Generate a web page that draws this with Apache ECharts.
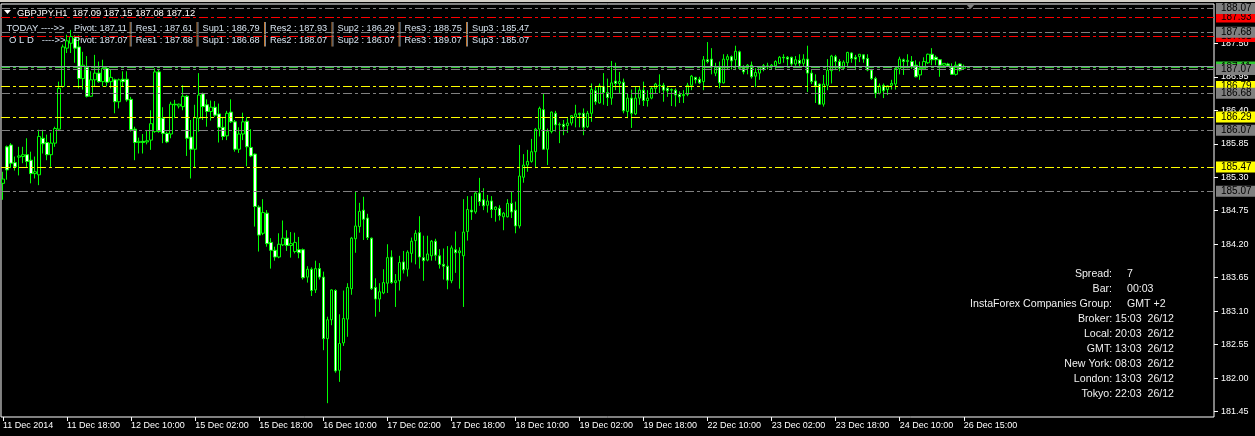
<!DOCTYPE html>
<html><head><meta charset="utf-8">
<script src="https://cdn.jsdelivr.net/npm/echarts@6/dist/echarts.min.js"></script>
<style>html,body{margin:0;padding:0;background:#000;overflow:hidden}#c{width:1255px;height:436px}</style>
</head><body><div id="c"></div>
<script>
// ---- data ----
const opens = [
185.20,185.80,185.83,185.54,185.63,185.64,185.67,185.58,185.36,185.34,
185.94,185.87,185.67,185.86,186.09,186.79,187.42,187.50,187.58,187.44,
186.92,187.12,186.63,186.90,187.01,186.87,187.09,186.87,186.90,186.54,
186.91,186.91,186.58,186.09,185.87,185.89,185.88,185.91,186.05,187.03,
186.27,186.02,186.01,186.50,186.47,186.46,186.63,185.96,185.76,186.27,
186.67,186.49,186.38,186.45,186.34,186.12,185.98,186.37,186.21,185.76,
186.01,186.22,185.79,185.68,184.81,184.38,184.71,184.23,184.10,183.99,
184.19,184.30,184.18,184.08,184.11,184.11,183.66,183.79,183.45,183.80,
183.66,182.65,182.96,183.44,182.13,182.58,182.97,183.47,184.29,184.49,
184.76,184.63,184.30,183.49,183.30,183.40,183.56,183.99,183.57,183.60,
183.91,183.79,184.05,184.26,184.39,183.98,183.94,184.01,184.25,184.01,
183.87,183.84,183.60,184.11,184.06,184.01,184.41,184.76,184.73,185.04,
184.93,184.84,184.91,184.77,184.79,184.65,184.65,184.87,184.76,184.50,
185.30,185.50,185.56,185.72,186.09,186.41,185.76,186.05,186.35,186.16,
186.17,186.15,186.19,186.29,186.33,186.35,186.13,186.35,186.72,186.52,
186.79,186.69,186.60,186.88,186.84,186.86,186.38,186.60,186.34,186.60,
186.73,186.56,186.60,186.76,186.81,186.81,186.76,186.73,186.73,186.66,
186.64,186.66,186.81,186.94,186.91,186.87,187.23,187.24,187.01,187.11,
186.85,187.23,187.28,187.23,187.36,187.09,187.09,187.14,186.96,187.01,
187.13,187.11,187.11,187.13,187.17,187.27,187.27,187.27,187.16,187.22,
187.17,187.24,187.01,186.88,186.83,186.50,186.81,187.05,187.28,187.20,
187.09,187.18,187.34,187.27,187.28,187.31,187.25,187.06,186.92,186.68,
186.81,186.74,186.81,186.83,187.08,187.23,187.20,187.20,187.14,186.98,
187.08,187.18,187.32,187.27,187.23,187.14,187.16,187.11,186.99,187.16,187.09];
const highs = [
185.39,185.82,185.86,185.64,185.80,185.80,185.94,185.72,185.64,186.08,
186.08,186.00,186.03,186.13,186.87,187.48,187.64,187.72,187.63,187.63,
187.36,187.29,187.04,187.31,187.20,187.23,187.12,187.07,186.92,186.92,
187.04,187.04,186.62,186.13,185.95,186.01,186.06,186.40,187.09,187.07,
186.45,186.05,186.54,186.57,186.51,186.81,186.65,186.24,186.49,187.01,
186.69,186.58,186.56,186.55,186.51,186.29,186.39,186.58,186.24,186.12,
186.36,186.29,186.09,185.69,184.84,184.94,184.76,184.30,184.16,184.38,
184.59,184.43,184.40,184.39,184.32,184.13,183.84,183.82,183.93,183.89,
183.75,183.01,183.46,183.46,183.05,183.44,183.56,184.32,185.06,184.88,
184.98,184.70,184.31,183.64,183.56,183.79,184.20,184.10,183.71,184.01,
184.09,184.10,184.31,184.43,184.66,184.34,184.34,184.27,184.29,184.12,
184.13,184.17,184.18,184.41,184.15,184.94,184.99,184.99,185.07,185.29,
185.12,185.01,184.99,184.82,184.84,184.73,184.94,185.07,184.90,185.83,
185.68,185.75,185.93,186.11,186.46,186.68,186.10,186.38,186.39,186.20,
186.24,186.27,186.32,186.49,186.36,186.43,186.39,186.84,186.79,186.84,
187.01,186.92,187.21,187.18,187.03,186.92,186.68,186.74,186.79,186.80,
186.87,186.73,186.79,186.85,186.99,186.85,186.80,186.76,186.76,186.71,
186.73,186.85,186.98,186.95,186.95,187.29,187.52,187.42,187.18,187.20,
187.32,187.32,187.30,187.46,187.38,187.14,187.16,187.20,187.09,187.11,
187.16,187.18,187.16,187.22,187.29,187.32,187.29,187.28,187.29,187.32,
187.32,187.46,187.06,186.99,186.84,186.98,187.24,187.31,187.31,187.24,
187.22,187.36,187.35,187.31,187.32,187.32,187.32,187.08,186.95,186.84,
186.84,186.81,186.90,187.11,187.28,187.25,187.32,187.29,187.22,187.20,
187.27,187.33,187.42,187.30,187.24,187.17,187.18,187.17,187.20,187.17,187.15];
const lows = [
184.93,185.26,185.45,185.41,185.33,185.53,185.47,185.20,185.28,185.17,
185.69,185.58,185.47,185.80,186.08,186.77,187.34,187.34,187.18,186.76,
186.74,186.61,186.62,186.79,186.85,186.79,186.79,186.76,186.35,186.43,
186.79,186.54,186.05,185.58,185.69,185.69,185.84,185.75,186.03,186.03,
185.86,185.86,185.94,186.27,186.43,186.40,185.65,185.28,185.45,186.05,
186.24,186.13,186.23,186.29,185.87,185.91,185.91,186.19,185.72,185.70,
185.91,185.48,185.63,184.49,184.08,184.35,184.16,183.80,183.93,183.97,
184.17,184.09,183.98,184.05,183.97,183.62,183.57,183.35,183.40,183.62,
182.46,181.59,182.87,182.09,181.94,182.53,182.68,183.37,184.06,184.39,
184.27,184.27,183.45,183.01,183.09,183.38,183.40,183.55,183.17,183.44,
183.72,183.67,183.90,183.87,183.80,183.60,183.92,183.93,183.93,183.80,
183.62,183.46,183.56,183.73,183.47,183.17,184.26,184.60,184.70,184.83,
184.76,184.72,184.63,184.57,184.59,184.43,184.64,184.63,184.38,184.46,
185.21,185.39,185.54,185.45,185.97,185.75,185.50,186.02,186.05,185.86,
185.99,186.03,186.15,186.12,186.12,185.99,186.11,186.21,186.49,186.51,
186.49,186.47,186.49,186.73,186.68,186.35,186.27,186.11,186.32,186.49,
186.47,186.46,186.58,186.68,186.68,186.54,186.62,186.47,186.46,186.52,
186.52,186.63,186.73,186.84,186.83,186.73,187.17,186.99,186.96,186.76,
186.84,187.07,187.07,187.06,187.08,186.99,186.99,186.92,186.78,186.90,
187.04,187.07,187.07,187.06,187.16,187.18,187.13,187.13,187.13,187.11,
187.11,186.70,186.83,186.52,186.49,186.46,186.73,186.84,187.06,187.04,
187.06,187.11,187.18,187.06,187.19,187.18,187.04,186.90,186.60,186.66,
186.60,186.65,186.74,186.74,186.99,186.98,187.09,187.08,186.94,186.90,
187.06,187.16,187.14,187.14,186.95,187.11,187.11,186.98,186.97,187.04,187.08];
const closes = [
185.27,185.42,185.53,185.47,185.65,185.67,185.56,185.36,185.39,185.97,
185.85,185.67,185.86,186.10,186.76,187.44,187.54,187.61,187.42,186.92,
187.14,186.63,186.90,187.01,186.87,187.09,186.86,186.94,186.54,186.90,
186.87,186.57,186.08,185.87,185.89,185.87,185.90,186.18,187.03,186.05,
186.02,185.88,186.50,186.49,186.50,186.63,185.94,185.76,186.28,186.65,
186.46,186.38,186.45,186.32,186.12,185.97,186.35,186.21,185.76,186.01,
186.21,185.80,185.65,184.82,184.35,184.72,184.21,184.10,183.99,184.20,
184.30,184.18,184.21,184.23,184.06,183.65,183.79,183.44,183.80,183.66,
182.65,182.96,183.45,182.12,182.57,182.98,183.49,184.30,184.50,184.74,
184.61,184.31,183.47,183.30,183.42,183.57,183.98,183.57,183.60,183.90,
183.78,184.07,184.25,184.38,183.99,183.93,184.04,184.25,184.02,183.87,
183.84,183.61,184.14,184.06,184.09,184.40,184.77,184.73,185.04,184.90,
184.83,184.91,184.77,184.81,184.67,184.71,184.87,184.73,184.50,185.32,
185.50,185.56,185.72,186.09,186.43,185.76,186.05,186.37,186.16,186.17,
186.13,186.19,186.31,186.34,186.35,186.12,186.35,186.74,186.54,186.80,
186.69,186.61,186.85,186.84,186.87,186.39,186.60,186.35,186.60,186.73,
186.56,186.60,186.76,186.83,186.80,186.73,186.72,186.74,186.65,186.62,
186.66,186.81,186.96,186.90,186.85,187.23,187.20,187.11,187.11,186.85,
187.24,187.28,187.21,187.37,187.09,187.03,187.14,186.95,187.02,187.11,
187.07,187.13,187.14,187.20,187.27,187.26,187.24,187.16,187.23,187.17,
187.24,187.01,186.87,186.80,186.50,186.83,187.06,187.29,187.20,187.09,
187.19,187.35,187.25,187.24,187.32,187.24,187.06,186.92,186.68,186.80,
186.72,186.80,186.84,187.09,187.24,187.20,187.22,187.11,186.95,187.09,
187.20,187.32,187.23,187.23,187.14,187.17,187.13,186.99,187.14,187.06,187.12];

// trading sessions: [day, first hour, last hour]
const sessions = [['11 Dec',2,23],['12 Dec',0,23],['15 Dec',0,23],['16 Dec',0,23],['17 Dec',0,23],
  ['18 Dec',0,23],['19 Dec',0,23],['22 Dec',0,23],['23 Dec',0,23],['24 Dec',0,19],['26 Dec',9,15]];
const tickLabels = ['11 Dec 2014','11 Dec 18:00','12 Dec 10:00','15 Dec 02:00','15 Dec 18:00','16 Dec 10:00',
  '17 Dec 02:00','17 Dec 18:00','18 Dec 10:00','19 Dec 02:00','19 Dec 18:00','22 Dec 10:00',
  '23 Dec 02:00','23 Dec 18:00','24 Dec 10:00','26 Dec 15:00'];
const tickEvery = 16;
const yTicks = [181.45,182.00,182.55,183.10,183.65,184.20,184.75,185.30,185.85,186.40,186.95,187.50];
const levelNames = ['Pivot','Res1','Sup1','Res2','Sup2','Res3','Sup3'];
const todayLevels = [187.11,187.61,186.79,187.93,186.29,188.75,185.47];
const oldLevels   = [187.07,187.68,186.68,188.07,186.07,189.07,185.07];
const symbolTitle = 'GBPJPY.H1';
const lastBar = [187.09,187.15,187.08,187.12];
const bidPrice = 187.12;
const infoTop = [['Spread:','7'],['Bar:','00:03'],['InstaForex Companies Group:','GMT +2']];
const clocks = [['Broker','15:03','26/12'],['Local','20:03','26/12'],['GMT','13:03','26/12'],
  ['New York','08:03','26/12'],['London','13:03','26/12'],['Tokyo','22:03','26/12']];

// ---- build ----
const SLOTS = 303;
const cats = [];
sessions.forEach(s => { for (let h = s[1]; h <= s[2]; h++) cats.push(s[0] + ' ' + String(h).padStart(2,'0') + ':00'); });
while (cats.length < SLOTS) cats.push('');
const candles = opens.map((o,i) => [o, closes[i], lows[i], highs[i]]);
const nBars = opens.length;
const YMIN = 181.363, YMAX = 188.145;
const FONT = '"Liberation Sans", Arial, sans-serif';

const levColorToday = ['#33cc33','#ff0000','#ffff00','#ff0000','#ffff00','#ff0000','#ffff00'];
const GRAY = '#808080';
const dashDot = [9,3,3,3];
function lvl(v, color, showLabel, solid) {
  return { yAxis: v,
    lineStyle: { color: color, width: 1, type: solid ? 'solid' : dashDot },
    label: { show: showLabel, position: 'end', distance: 2, formatter: () => v.toFixed(2),
      backgroundColor: color, color: '#000', fontSize: 10, fontFamily: FONT,
      padding: [1,5,0,5], lineHeight: 10 } };
}
const mlData = [];
todayLevels.forEach((v,k) => { if (v > YMIN && v < YMAX) mlData.push(lvl(v, levColorToday[k], true, false)); });
mlData.push(lvl(bidPrice, '#8c98a4', false, true));
oldLevels.forEach(v => { if (v > YMIN && v < YMAX) mlData.push(lvl(v, GRAY, true, false)); });

// header graphics
const segX = [74, 135.7, 202.5, 270, 337.5, 404.6, 472];
const g = [];
g.push({type:'rect', shape:{x:0, y:0, width:1255, height:2}, style:{fill:'#d4d0c8'}, z:120});
g.push({type:'polygon', shape:{points:[[4,10],[11,10],[7.5,14]]}, style:{fill:'#fff'}, z:100});
g.push({type:'text', x:17, y:13, style:{text: symbolTitle + '  ' + lastBar.map(v=>v.toFixed(2)).join(' '),
  fill:'#fff', font:'9.4px ' + FONT, textVerticalAlign:'middle'}, z:100});
function levelRow(prefix, prefixX, vals, y) {
  g.push({type:'text', x:prefixX, y:y, style:{text:prefix, fill:'#d8e4f0', font:'9.5px ' + FONT, textVerticalAlign:'middle'}, z:100});
  vals.forEach((v,k) => {
    const txt = k === 0 ? levelNames[k] + ': ' + v.toFixed(2) : levelNames[k] + ' : ' + v.toFixed(2);
    g.push({type:'text', x:segX[k], y:y, style:{text:txt, fill:'#d8e4f0', font:'9.2px ' + FONT, textVerticalAlign:'middle'}, z:100});
    if (k > 0) {
      g.push({type:'rect', shape:{x:segX[k]-6, y:y-6, width:1, height:12}, style:{fill:'#c87a30'}, z:100});
      g.push({type:'rect', shape:{x:segX[k]-5, y:y-6, width:1, height:12}, style:{fill:'#7a8a9a'}, z:100});
    }
  });
}
levelRow('TODAY ---->>', 6.4, todayLevels, 28);
levelRow('O L D   ---->>', 9, oldLevels, 40.5);
g.push({type:'polygon', shape:{points:[[966,4],[975,4],[970.5,9]]}, style:{fill:'#808080'}, z:100});

// info panel
const infoFont = '10.6px ' + FONT;
infoTop.forEach((r,k) => {
  const y = 274.3 + k*15;
  g.push({type:'text', x:1112, y:y, style:{text:r[0], fill:'#f0f0f0', font:infoFont, textAlign:'right', textVerticalAlign:'middle'}, z:100});
  g.push({type:'text', x:1127, y:y, style:{text:r[1], fill:'#f0f0f0', font:infoFont, textAlign:'left', textVerticalAlign:'middle'}, z:100});
});
clocks.forEach((r,k) => {
  const y = 319.3 + k*14.9;
  g.push({type:'text', x:1174, y:y, style:{text:r[0] + ': ' + r[1] + '  ' + r[2], fill:'#f0f0f0', font:infoFont, textAlign:'right', textVerticalAlign:'middle'}, z:100});
});

const showTick = (i) => i % tickEvery === 0 && i < nBars;
const chart = echarts.init(document.getElementById('c'), null, {renderer:'canvas'});
chart.setOption({
  backgroundColor: '#000',
  animation: false,
  grid: { left: 0, right: 41, top: 4, bottom: 19, show: true, borderColor: '#ffffff', borderWidth: 1, backgroundColor: '#000' },
  xAxis: { type: 'category', data: cats, boundaryGap: true,
    axisLine: { show: false },
    axisTick: { show: true, alignWithLabel: true, length: 4, interval: showTick, lineStyle: { color: '#fff' } },
    axisLabel: { interval: showTick, formatter: (v,i) => tickLabels[i / tickEvery] || '', align: 'left',
      color: '#fff', fontSize: 9, fontFamily: FONT, margin: 4 },
    splitLine: { show: false } },
  yAxis: { type: 'value', position: 'right', min: YMIN, max: YMAX,
    axisLine: { show: false }, splitLine: { show: false },
    axisTick: { show: true, length: 4, customValues: yTicks, lineStyle: { color: '#fff' } },
    axisLabel: { customValues: yTicks, formatter: v => v.toFixed(2), color: '#fff', fontSize: 9, fontFamily: FONT, margin: 7 } },
  series: [{ type: 'candlestick', data: candles, barWidth: 3,
    itemStyle: { color: '#000', color0: '#fff', borderColor: '#00ff00', borderColor0: '#00ff00', borderWidth: 1 },
    markLine: { symbol: ['none','none'], silent: true, animation: false, data: mlData } }],
  graphic: g
});
</script></body></html>
